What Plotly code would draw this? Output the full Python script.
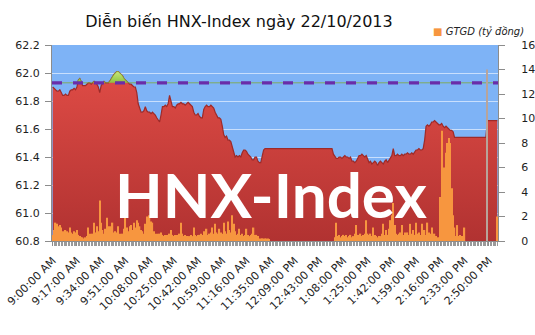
import plotly.graph_objects as go

# ---- data ----
tick_labels = ["9:00:00 AM", "9:17:00 AM", "9:34:00 AM", "9:51:00 AM", "10:08:00 AM",
               "10:25:00 AM", "10:42:00 AM", "10:59:00 AM", "11:16:00 AM", "11:35:00 AM",
               "12:09:00 PM", "12:43:00 PM", "1:08:00 PM", "1:25:00 PM", "1:42:00 PM",
               "1:59:00 PM", "2:16:00 PM", "2:33:00 PM", "2:50:00 PM"]

hnx_index = [
    61.90, 61.89, 61.88, 61.87, 61.87, 61.88, 61.86, 61.84, 61.84, 61.85,
    61.84, 61.84, 61.87, 61.88, 61.88, 61.89, 61.88, 61.90, 61.95, 61.96,
    61.94, 61.91, 61.91, 61.91, 61.92, 61.93, 61.93, 61.92, 61.93, 61.94,
    61.93, 61.92, 61.90, 61.86, 61.91, 61.93, 61.94, 61.93, 61.93, 61.93,
    61.94, 61.96, 61.97, 61.99, 62.00, 62.01, 62.01, 62.00, 61.99, 61.98,
    61.96, 61.95, 61.94, 61.93, 61.92, 61.92, 61.91, 61.90, 61.90, 61.86,
    61.78, 61.74, 61.72, 61.72, 61.73, 61.76, 61.73, 61.72, 61.72, 61.71,
    61.72, 61.71, 61.70, 61.68, 61.66, 61.65, 61.70, 61.76, 61.76, 61.77,
    61.76, 61.78, 61.84, 61.79, 61.76, 61.76, 61.75, 61.77, 61.78, 61.78,
    61.79, 61.78, 61.78, 61.77, 61.78, 61.79, 61.78, 61.77, 61.76, 61.72,
    61.70, 61.70, 61.71, 61.69, 61.68, 61.68, 61.74, 61.76, 61.77, 61.76,
    61.76, 61.77, 61.76, 61.75, 61.72, 61.70, 61.68, 61.68, 61.67, 61.62,
    61.56, 61.54, 61.55, 61.52, 61.52, 61.51, 61.47, 61.42, 61.40, 61.41,
    61.40, 61.41, 61.40, 61.43, 61.45, 61.45, 61.44, 61.42, 61.41, 61.40,
    61.38, 61.38, 61.40, 61.40, 61.37, 61.36, 61.36, 61.40, 61.45, 61.46,
    61.46, 61.46, 61.46, 61.46, 61.46, 61.46, 61.46, 61.46, 61.46, 61.46,
    61.46, 61.46, 61.46, 61.46, 61.46, 61.46, 61.46, 61.46, 61.46, 61.46,
    61.46, 61.46, 61.46, 61.46, 61.46, 61.46, 61.46, 61.46, 61.46, 61.46,
    61.46, 61.46, 61.46, 61.46, 61.46, 61.46, 61.46, 61.46, 61.46, 61.46,
    61.46, 61.46, 61.46, 61.46, 61.46, 61.46, 61.46, 61.42, 61.40, 61.39,
    61.39, 61.40, 61.40, 61.39, 61.40, 61.41, 61.40, 61.40, 61.39, 61.40,
    61.37, 61.37, 61.36, 61.37, 61.39, 61.41, 61.41, 61.42, 61.41, 61.40,
    61.41, 61.38, 61.36, 61.37, 61.35, 61.36, 61.37, 61.36, 61.34, 61.36,
    61.37, 61.36, 61.35, 61.37, 61.38, 61.36, 61.38, 61.40, 61.41, 61.46,
    61.41, 61.41, 61.42, 61.41, 61.41, 61.42, 61.41, 61.42, 61.42, 61.43,
    61.42, 61.42, 61.43, 61.42, 61.44, 61.45, 61.45, 61.46, 61.45, 61.45,
    61.46, 61.52, 61.62, 61.63, 61.62, 61.63, 61.65, 61.65, 61.66, 61.65,
    61.64, 61.63, 61.63, 61.64, 61.62, 61.61, 61.62, 61.61, 61.60, 61.59,
    61.59, 61.58, 61.54, 61.54, 61.54, 61.54, 61.54, 61.54, 61.54, 61.54,
    61.54, 61.54, 61.54, 61.54, 61.54, 61.54, 61.54, 61.54, 61.54, 61.54,
    61.54, 61.54, 61.54, 61.54, 61.54, 61.66, 61.66, 61.66, 61.66, 61.66,
    61.66, 61.66, 61.66,
]

gtgd = [
    0.5, 0.9, 1.5, 1.4, 1.2, 1.3, 1.1, 0.8, 0.6, 0.9,
    0.8, 0.7, 1.1, 0.7, 0.6, 0.8, 0.7, 0.9, 0.5, 0.4,
    0.3, 0.3, 0.2, 0.3, 0.4, 1.1, 0.6, 0.5, 0.6, 1.5,
    0.7, 1.2, 0.8, 3.3, 1.5, 0.9, 0.6, 1.0, 1.9, 1.2,
    1.2, 0.9, 1.5, 0.7, 0.8, 0.7, 1.2, 0.6, 0.5, 0.6,
    1.0, 2.0, 1.1, 0.8, 1.2, 1.3, 0.9, 1.5, 1.1, 1.7,
    1.5, 1.2, 0.9, 0.8, 0.6, 1.4, 2.0, 1.8, 2.1, 1.6,
    1.5, 0.8, 0.6, 0.6, 0.5, 0.6, 0.7, 0.5, 0.4, 0.5,
    0.5, 0.4, 0.6, 0.9, 0.5, 0.4, 0.5, 0.5, 0.4, 0.6,
    1.5, 0.6, 0.4, 0.5, 0.4, 0.3, 0.4, 0.5, 0.4, 1.1,
    0.5, 0.4, 0.5, 0.5, 0.6, 0.5, 0.8, 0.6, 1.0, 0.5,
    0.6, 0.7, 1.1, 0.6, 1.4, 0.7, 0.6, 1.0, 0.7, 0.6,
    1.5, 0.8, 0.6, 1.6, 0.9, 0.7, 2.1, 1.4, 0.8, 0.5,
    0.6, 1.0, 0.5, 0.6, 0.4, 0.5, 1.0, 0.5, 0.4, 0.5,
    0.6, 1.1, 0.5, 0.5, 0.4, 0.2, 0.2, 0.2, 0.2, 0.2,
    0.2, 0.2, 0.1, 0, 0, 0, 0, 0, 0, 0,
    0, 0, 0, 0, 0, 0, 0, 0, 0, 0,
    0, 0, 0, 0, 0, 0, 0, 0, 0, 0,
    0, 0, 0, 0, 0, 0, 0, 0, 0, 0,
    0, 0, 0, 0, 0, 0, 0, 0, 0.3, 1.5,
    0.4, 0.5, 0.3, 0.4, 0.5, 0.4, 0.5, 0.3, 0.4, 0.5,
    0.3, 0.4, 0.6, 1.3, 0.5, 0.5, 0.6, 0.4, 0.5, 0.6,
    1.7, 0.6, 0.5, 0.6, 0.4, 1.1, 0.5, 0.4, 0.3, 0.4,
    0.4, 0.6, 1.4, 0.5, 0.9, 0.5, 1.0, 1.7, 2.1, 3.1,
    1.3, 0.6, 0.5, 0.6, 0.7, 1.3, 0.5, 0.7, 0.6, 0.7,
    0.5, 1.4, 0.6, 0.9, 0.5, 1.5, 0.6, 0.7, 0.5, 1.4,
    0.6, 0.9, 0.5, 1.5, 0.7, 0.6, 1.1, 0.5, 0.6, 0.4,
    0.3, 0.3, 3.6, 9.0, 4.5, 6.0, 7.2, 8.0, 8.4, 8.0,
    4.3, 2.1, 1.1, 0.4, 1.3, 0.4, 0.5, 0.4, 0.3, 1.1,
    0, 0, 0, 0, 0, 0, 0, 0, 0, 0,
    0, 0, 0, 0, 0, 14.0, 0, 0, 0, 0,
    0, 0, 2.0,
]

reference_level = 61.93  # tham chiếu

assert len(hnx_index) == len(gtgd)
n = len(hnx_index)
x = list(range(n))
tick_pos = list(range(0, 17 * len(tick_labels), 17))

above = [max(v, reference_level) for v in hnx_index]
bar_colors = ["#B8A49A" if v > 10 else "#F7963F" for v in gtgd]

fig = go.Figure()

# red index area
fig.add_trace(go.Scatter(
    x=x, y=hnx_index, mode="lines", fill="tozeroy",
    line=dict(color="#9E2A28", width=1.2),
    fillgradient=dict(type="vertical", start=60.8, stop=62.0,
                      colorscale=[[0, "#B13231"], [1, "#DE4B45"]]),
    showlegend=False, hoverinfo="skip"))

# green part above reference
fig.add_trace(go.Scatter(
    x=x, y=[reference_level] * n, mode="lines", line=dict(width=0),
    showlegend=False, hoverinfo="skip"))
fig.add_trace(go.Scatter(
    x=x, y=above, mode="lines", fill="tonexty",
    line=dict(color="#7FA83A", width=0.8),
    fillgradient=dict(type="vertical", start=reference_level, stop=62.01,
                      colorscale=[[0, "#8CC240"], [1, "#C9E77A"]]),
    showlegend=False, hoverinfo="skip"))

# dashed reference line
fig.add_trace(go.Scatter(
    x=[-0.5, n - 0.5], y=[reference_level, reference_level], mode="lines",
    line=dict(color="#6A2DA8", width=3.3, dash="10px,11px"),
    showlegend=False, hoverinfo="skip"))

# volume bars
fig.add_trace(go.Bar(
    x=x, y=gtgd, yaxis="y2", marker=dict(color=bar_colors, line=dict(width=0)),
    name="GTGD (tỷ đồng)", showlegend=False, hoverinfo="skip"))

axis_font = dict(family="DejaVu Sans", size=11, color="#1E1E1E")

fig.update_layout(
    width=535, height=335,
    margin=dict(l=52, r=37, t=45, b=94, autoexpand=False),
    paper_bgcolor="white",
    plot_bgcolor="#7EB3F6",
    bargap=0.08,
    showlegend=False,
    title=dict(text="Diễn biến HNX-Index ngày 22/10/2013",
               font=dict(family="DejaVu Sans", size=16, color="#111111"),
               x=239 / 535, xanchor="center", y=1 - 21.5 / 335, yanchor="middle"),
    xaxis=dict(range=[-0.5, n - 0.5], tickvals=tick_pos, ticktext=tick_labels,
               tickangle=-45, tickfont=dict(family="DejaVu Sans", size=11, color="#1E1E1E"),
               showgrid=False, zeroline=False, showline=True, linecolor="#8C8C8C",
               ticks="outside", ticklen=4, tickcolor="#8C8C8C", ticklabelstandoff=4,
               automargin=False,
               minor=dict(dtick=1, tick0=0, ticks="outside", ticklen=4,
                          tickcolor="#9A9A9A", showgrid=False)),
    yaxis=dict(range=[60.8, 62.2], dtick=0.2, tickformat=".1f",
               tickfont=axis_font, showgrid=True, gridcolor="rgba(225,237,255,0.75)",
               gridwidth=1, zeroline=False, showline=True, linecolor="#8C8C8C",
               ticks="outside", ticklen=6, tickcolor="#8C8C8C", ticklabelstandoff=3,
               automargin=False),
    yaxis2=dict(range=[0, 16], dtick=2, overlaying="y", side="right",
                tickfont=axis_font, showgrid=False, zeroline=False, showline=True,
                linecolor="#8C8C8C", ticks="outside", ticklen=6, tickcolor="#8C8C8C",
                ticklabelstandoff=14, automargin=False),
    annotations=[
        dict(text="HNX-Index", xref="paper", yref="paper", x=0.491, y=0.24,
             xanchor="center", yanchor="middle", showarrow=False,
             font=dict(family="Lato", size=62, color="white", weight="bold")),
        dict(text="<span style='color:#F7963F'>■</span> <i>GTGD (tỷ đồng)</i>",
             xref="paper", yref="paper", x=(431 - 52) / 446, y=(241 - 31) / 196,
             xanchor="left", yanchor="middle", showarrow=False,
             font=dict(family="DejaVu Sans", size=10, color="#222222")),
    ],
)

fig.write_html("out.html")
